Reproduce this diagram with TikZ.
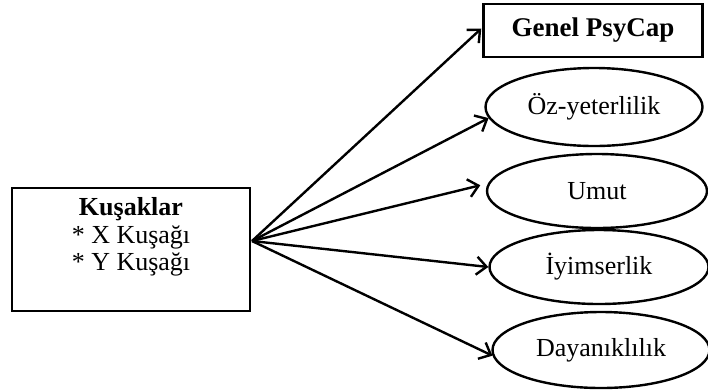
\documentclass[tikz,border=0pt]{standalone}
\usepackage{fontspec}
\setmainfont{Liberation Serif}
\usetikzlibrary{arrows.meta,shapes.geometric}
\begin{document}
\begin{tikzpicture}[x=1pt,y=-1pt,
  box/.style={draw,line width=2.4pt,rectangle,inner sep=0pt},
  ell/.style={draw,line width=2.4pt,ellipse,inner sep=0pt,font=\fontsize{26}{31}\selectfont},
  arr/.style={line width=2.4pt,-{Straight Barb[length=10pt,width=18pt,line width=2.4pt]}},
  lbl/.style={font=\fontsize{26}{27.5}\selectfont,align=center,inner sep=0pt}]
\useasboundingbox (0,0) rectangle (708,389);
% left box
\node[box,minimum width=238pt,minimum height=123pt] (kus) at (131,249.5) {};
\node[lbl] (kust) at (131,237) {\textbf{Kuşaklar}\\* X Kuşağı\\* Y Kuşağı};
\coordinate (o) at (252,241);
% right nodes
\node[box,minimum width=219pt,minimum height=53pt,font=\fontsize{27}{30}\selectfont\bfseries] (gen) at (593,30.5) {Genel PsyCap};
\node[ell,minimum width=217pt,minimum height=78pt] (oz) at (594,107) {Öz-yeterlilik};
\node[ell,minimum width=220pt,minimum height=74pt] (umut) at (597,191) {Umut};
\node[ell,minimum width=219pt,minimum height=74pt] (iyi) at (599,267) {İyimserlik};
\node[ell,minimum width=217pt,minimum height=76pt] (day) at (601,350) {Dayanıklılık};
% arrows
\draw[arr] (o) -- ([shift={(-1,-2)}]gen.west);
\draw[arr] (o) -- (oz.186);
\draw[arr,shorten >=8pt] (o) -- (umut.176);
\draw[arr] (o) -- (iyi.west);
\draw[arr] (o) -- (day.183);
\end{tikzpicture}
\end{document}
